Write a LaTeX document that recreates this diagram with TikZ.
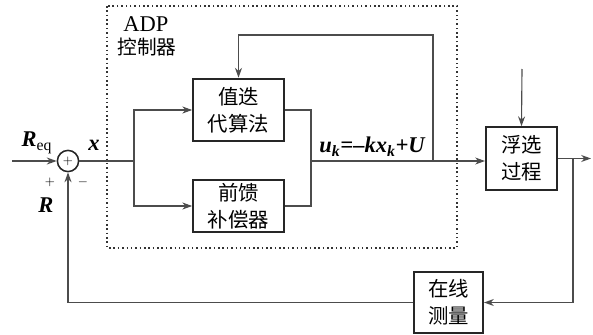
\documentclass[tikz,border=0pt]{standalone}
\usepackage{fontspec}
\setmainfont{Liberation Serif}
\newfontfamily\cjk{Noto Sans CJK SC}
\usetikzlibrary{arrows.meta}

\begin{document}
\begin{tikzpicture}[x=0.025cm,y=-0.025cm,
    >={Stealth[length=7pt,width=5pt]},
    line/.style={draw=black!70,line width=0.8pt},
    blk/.style={draw=black!85,line width=1.3pt,fill=white,align=center,inner sep=0pt,
      font=\cjk\fontsize{14.5}{19}\selectfont},
    lbl/.style={font=\fontsize{14}{16}\selectfont,inner sep=0pt},
    sig/.style={lbl,font=\fontsize{16}{18}\selectfont\bfseries\itshape}]
              \useasboundingbox (0,0) rectangle (593,335);
              % controller frame
              \draw[dotted,line width=1.1pt,black!80] (107,6) rectangle (457,248);
              \node[lbl,font=\fontsize{16}{18}\selectfont](adp)at(146,24){ADP};
              \node[lbl,font=\cjk\fontsize{14}{16}\selectfont](ctl)at(147,47){控制器};
              % blocks
              \node[circle,draw=black!85,line width=1.1pt,minimum size=0.53cm,inner sep=0pt,font=\small](sum)at(68,161){$+$};
              \node[blk,minimum width=2.27cm,minimum height=1.57cm](vi)at(238.5,110){值迭\\代算法};
              \node[blk,minimum width=2.27cm,minimum height=1.3cm](ff)at(238.5,206){前馈\\补偿器};
              \node[blk,minimum width=1.78cm,minimum height=1.57cm](fl)at(521.5,158.5){浮选\\过程};
              \node[blk,minimum width=1.73cm,minimum height=1.52cm](meas)at(448.5,302.5){在线\\测量};
              % junction points
              \coordinate (in) at (12,161);
              \coordinate (br) at (134,161);
              \coordinate (jn) at (311,161);
              \coordinate (tap) at (433,161);
              \coordinate (top) at (433,35);
              \coordinate (dist) at (522,69);
              \coordinate (out) at (591,158.5);
              \coordinate (tap2) at (573,158.5);
              % connectors
              \draw[line,->] (in) -- (sum.west);
              \draw[line] (sum.east) -- (br);
              \draw[line,->] (br) |- (vi.west);
              \draw[line,->] (br) |- (ff.west);
              \draw[line] (vi.east) -| (jn);
              \draw[line] (ff.east) -| (jn);
              \draw[line,->] (jn) -- (jn -| fl.west);
              \draw[line,->] (tap) -- (top) -| (vi.north);
              \draw[line,->] (dist) -- (fl.north);
              \draw[line,->] (fl.east) -- (out);
              \draw[line,->] (tap2) |- (meas.east);
              \draw[line,->] (meas.west) -| (sum.south);
              % signal labels
              \node[sig](req)at(37,143){R\textsubscript{\normalfont eq}};
              \node[sig](xs)at(94,145){x};
              \node[lbl,font=\small](pl)at(50,182){$+$};
              \node[lbl,font=\small](mi)at(83,182){$-$};
              \node[sig](r)at(46,205){R};
              \node[sig](uk)at(372,147){u\textsubscript{k}=\textendash kx\textsubscript{k}+U};
            \end{tikzpicture}
\end{document}
